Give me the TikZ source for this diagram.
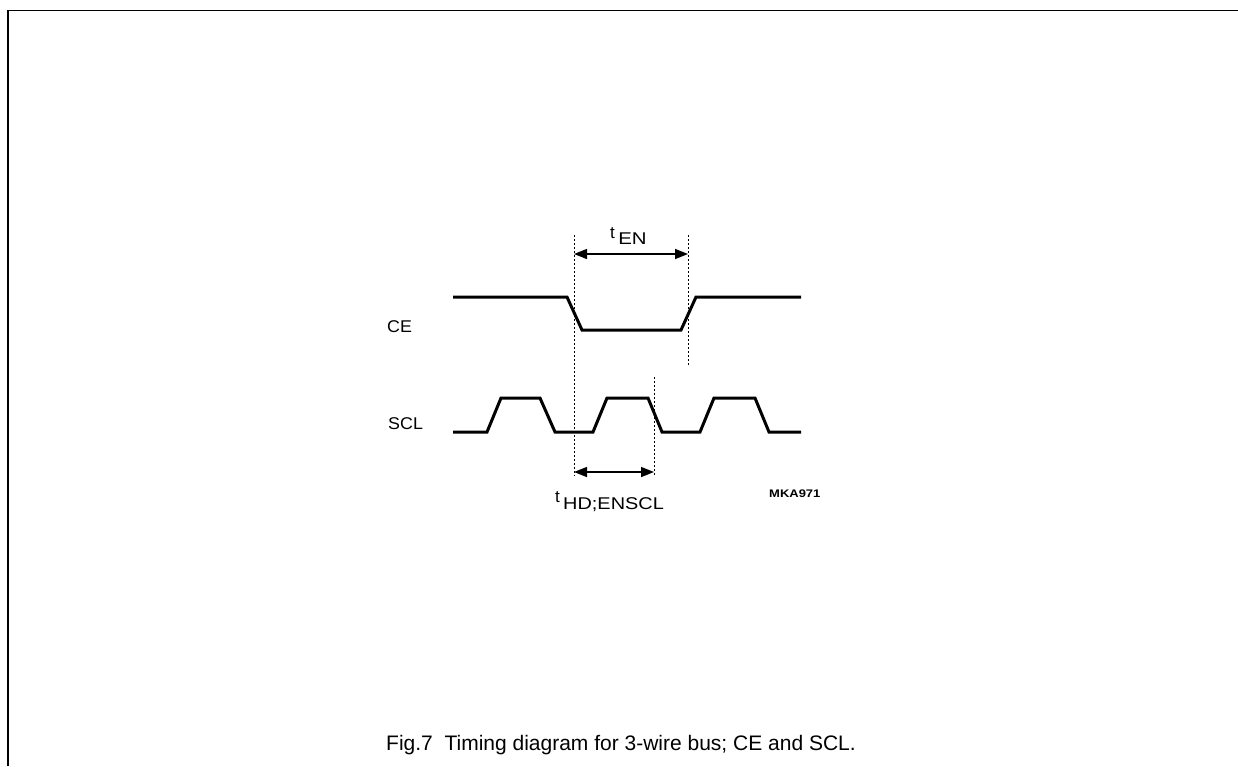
\documentclass[tikz,border=0pt]{standalone}
\usepackage{fontspec}
\setmainfont{Liberation Sans}
\usetikzlibrary{arrows.meta}
\begin{document}
\begin{tikzpicture}[x=1pt,y=-1pt,
  sig/.style={line width=3pt,line join=miter},
  guide/.style={line width=1pt,dash pattern=on 2pt off 2pt},
  dim/.style={line width=1.5pt,{Triangle[length=13pt,width=10pt]}-{Triangle[length=13pt,width=10pt]}},
  lbl/.style={inner sep=0pt,font=\fontsize{17}{20}\selectfont},
  frame/.style={line width=1.6pt}]
\useasboundingbox (0,0) rectangle (1238,766);
% frame
\coordinate (ftl) at (8,10.5);
\coordinate (ftr) at (1238,10.5);
\coordinate (fbl) at (8,766);
\draw[frame] (ftr) -- (ftl) -- (fbl);
% CE signal
\draw[sig] (453,297) -- (567,297) -- (582,330) -- (681,330) -- (696,297) -- (801,297);
% SCL signal
\draw[sig] (453,432) -- (487,432) -- (501,398) -- (540,398) -- (555,432) -- (593,432) -- (607,398)
  -- (648,398) -- (662,432) -- (700,432) -- (714,398) -- (755,398) -- (769,432) -- (801,432);
% guide lines
\coordinate (g1t) at (574,235); \coordinate (g1b) at (574,476);
\coordinate (g2t) at (688,235); \coordinate (g2b) at (688,366);
\coordinate (g3t) at (654,377); \coordinate (g3b) at (654,476);
\draw[guide] (g1t) -- (g1b);
\draw[guide] (g2t) -- (g2b);
\draw[guide] (g3t) -- (g3b);
% dimension arrows
\coordinate (a1l) at (574,254); \coordinate (a1r) at (688,254);
\coordinate (a2l) at (574,472); \coordinate (a2r) at (654,472);
\draw[dim] (a1l) -- (a1r);
\draw[dim] (a2l) -- (a2r);
% labels
\node[lbl,anchor=base west] (ce) at (387,332) {\scalebox{1.05}[1]{CE}};
\node[lbl,anchor=base west] (scl) at (388,429) {\scalebox{1.05}[1]{SCL}};
\node[lbl,anchor=base west] (ten) at (610,238) {t\raisebox{-6pt}{\scalebox{1.2}[1]{\,EN}}};
\node[lbl,anchor=base west] (thd) at (555,502) {t\raisebox{-7pt}{\scalebox{1.17}[1]{\,HD;ENSCL}}};
\node[inner sep=0pt,anchor=base west,font=\fontsize{11}{13}\selectfont\bfseries] (mka) at (769,497) {\scalebox{1.18}[1]{MKA971}};
\node[inner sep=0pt,anchor=base,font=\fontsize{21}{25}\selectfont] (cap) at (621,750) {Fig.7\ \ Timing diagram for 3-wire bus; CE and SCL.};
\end{tikzpicture}
\end{document}
